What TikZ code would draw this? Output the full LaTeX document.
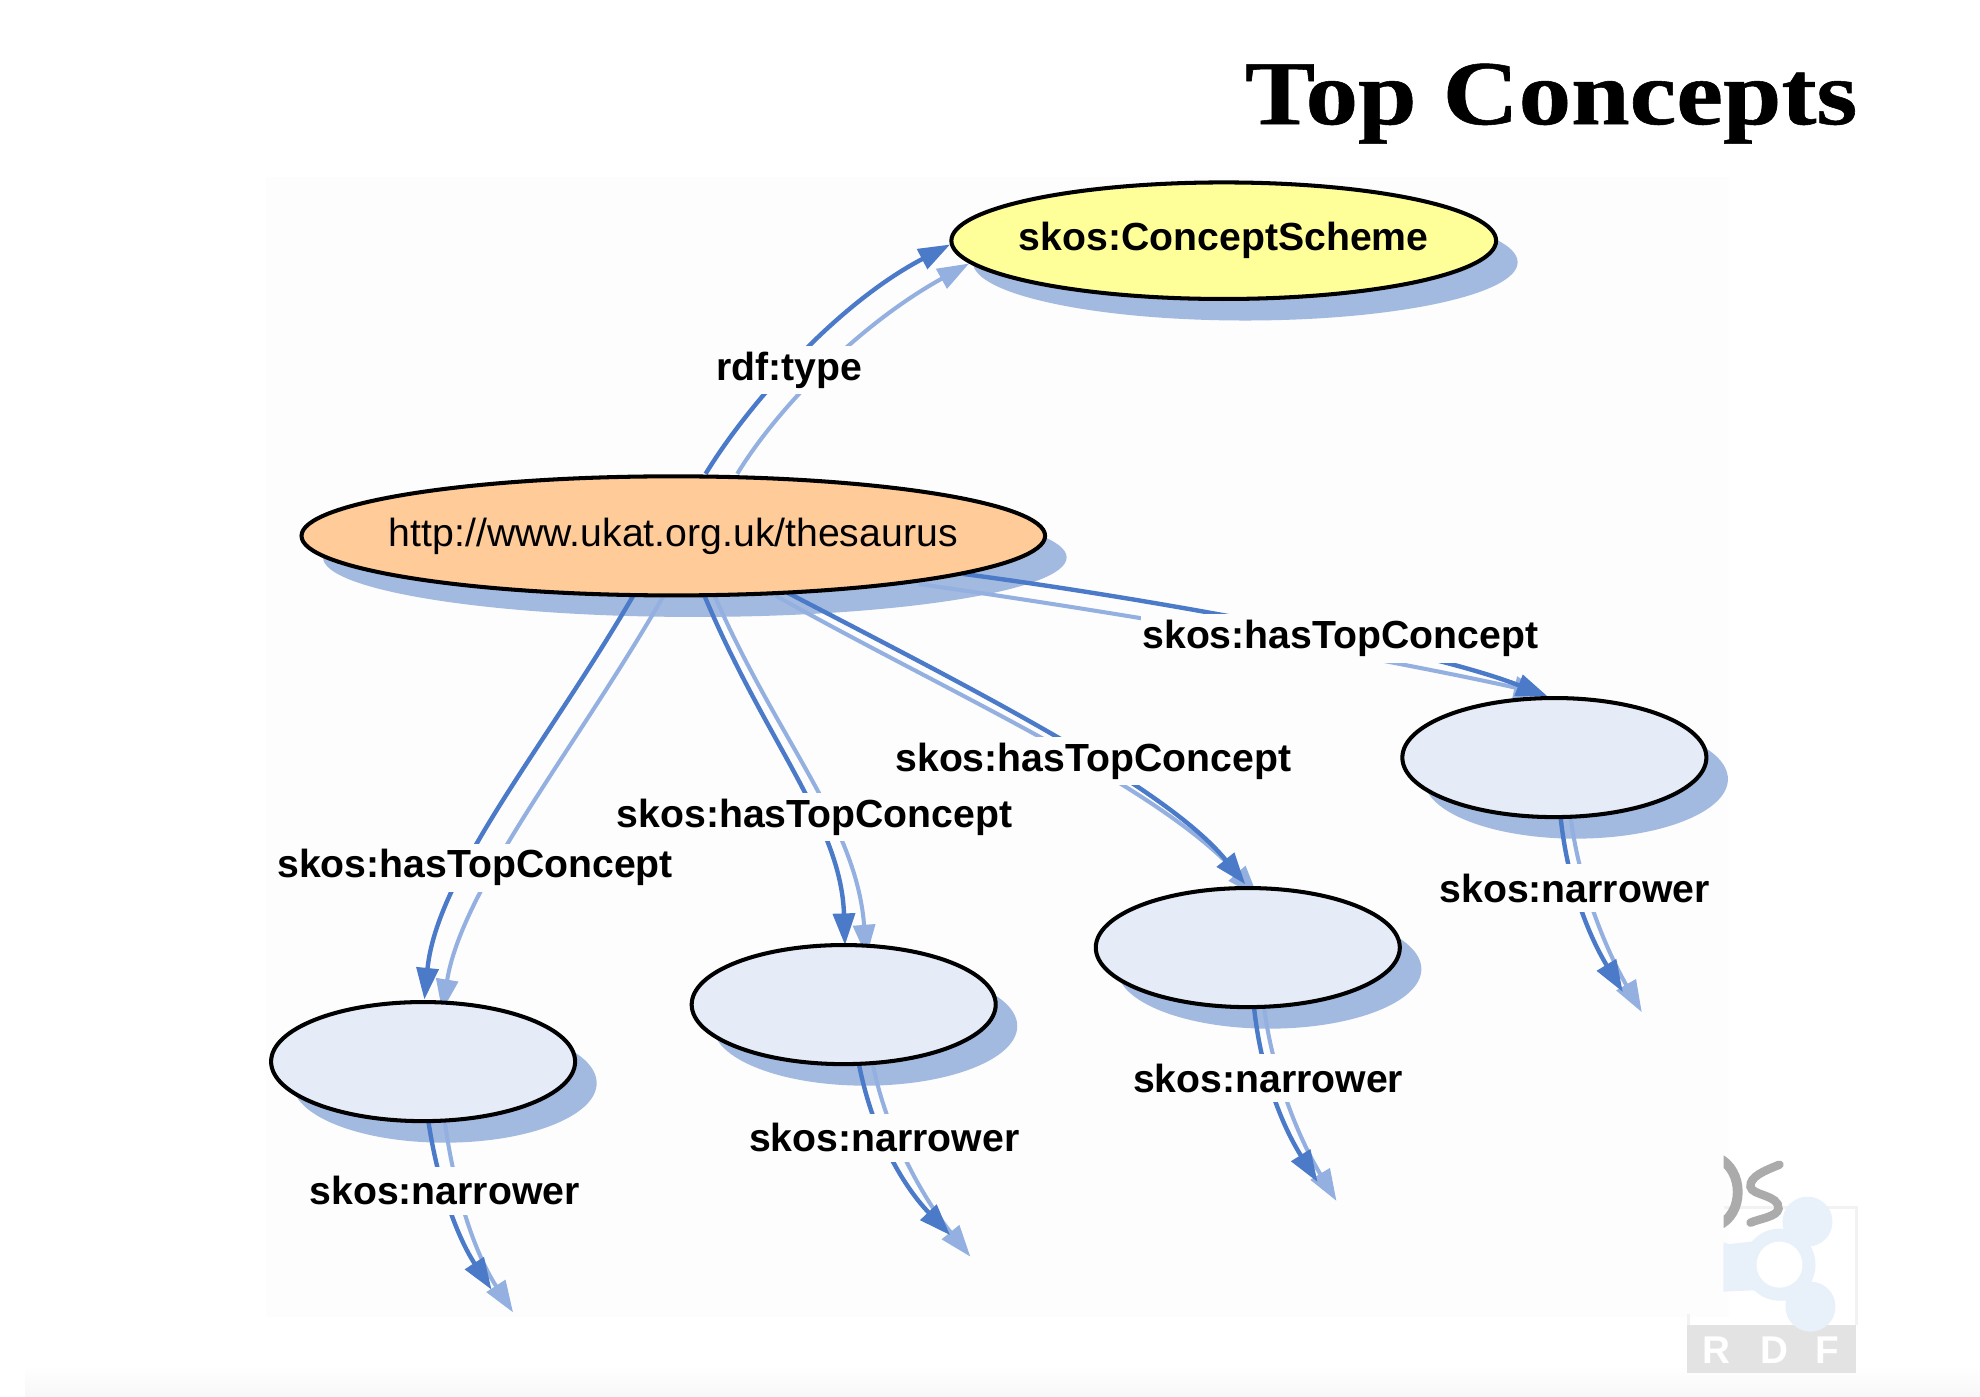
\documentclass[tikz,border=0pt]{standalone}
\usepackage{fontspec}
\setmainfont{Liberation Sans}
\newfontfamily\titlefont[BoldFeatures={FakeBold=0.6}]{Liberation Serif}
\usetikzlibrary{arrows.meta,shapes.geometric}
\pgfdeclarelayer{bglayer}
\pgfdeclarelayer{shadowlayer}
\pgfdeclarelayer{edgelayer}
\pgfsetlayers{bglayer,shadowlayer,edgelayer,main}
\definecolor{darkline}{HTML}{4A7AC8}
\definecolor{lightline}{HTML}{93B0E0}
\definecolor{shadowblue}{HTML}{A3BAE0}
\definecolor{paleblue}{HTML}{E5ECF7}
\definecolor{scheme}{HTML}{FFFF99}
\definecolor{rootfill}{HTML}{FFCC99}
\definecolor{bgtint}{HTML}{FDFDFE}
\definecolor{logoblue}{HTML}{E8F0FA}
\def\U{0.012668cm}
\tikzset{
  x=0.012668cm,y=-0.012668cm,
  oval/.style={ellipse,draw=black,line width=1.15pt,inner sep=0pt},
  smalloval/.style={oval,fill=paleblue,minimum width=240*\U,minimum height=94*\U},
  rootoval/.style={oval,fill=rootfill,minimum width=587*\U,minimum height=94*\U},
  schemeoval/.style={oval,fill=scheme,minimum width=430*\U,minimum height=92*\U},
  shadowoval/.style={ellipse,fill=shadowblue,inner sep=0pt},
  darkedge/.style={draw=darkline,line width=1.25pt,-{Triangle[length=9pt,width=6.2pt]}},
  lightedge/.style={draw=lightline,line width=1.15pt,-{Triangle[length=9pt,width=6.2pt]}},
  edgelabel/.style={fill=bgtint,inner sep=0.5pt,minimum height=38*\U,font=\fontsize{11.15}{13}\selectfont\bfseries},
}
\begin{document}
\begin{tikzpicture}
\useasboundingbox (0,0) rectangle (1563,1102);
% ---- page background
\begin{pgfonlayer}{bglayer}
  \fill[white] (0,0) rectangle (1563,1102);
  \fill[bgtint] (210,140) rectangle (1365,1040);
  \shade[top color=white,bottom color=black!3] (20,1078) rectangle (1563,1102);
\end{pgfonlayer}
% ---- title
\node[anchor=base,xscale=1.15,inner sep=0pt,font=\titlefont\bfseries\fontsize{26}{30}\selectfont] (title) at (1224.5,98) {Top Concepts};
% ---- ellipses
\node[schemeoval] (scheme) at (966,190) {\makebox[0pt]{\raisebox{-1pt}{\fontsize{11.15}{13}\selectfont\bfseries skos:ConceptScheme}}};
\node[rootoval] (root) at (531.5,423) {\makebox[0pt]{\fontsize{11.15}{13}\selectfont http://www.ukat.org.uk/thesaurus}};
\node[smalloval] (n1) at (1227,598) {};
\node[smalloval] (n2) at (985,748) {};
\node[smalloval] (n3) at (666,793) {};
\node[smalloval] (n4) at (334,838) {};
% ---- shadows
\begin{pgfonlayer}{shadowlayer}
  \node[shadowoval,minimum width=430*\U,minimum height=92*\U] (schemeS) at ([shift={(17,17)}]scheme.center) {};
  \node[shadowoval,minimum width=587*\U,minimum height=94*\U] (rootS) at ([shift={(17,17)}]root.center) {};
  \foreach \n in {n1,n2,n3,n4}
    \node[shadowoval,minimum width=240*\U,minimum height=94*\U] (\n S) at ([shift={(17,17)}]\n.center) {};
\end{pgfonlayer}
% ---- free ends of skos:narrower
\coordinate (f1d) at ([shift={(54,185)}]n1.center);
\coordinate (f1l) at ([shift={(69,201)}]n1.center);
\coordinate (f2d) at ([shift={(55,185)}]n2.center);
\coordinate (f2l) at ([shift={(70,200)}]n2.center);
\coordinate (f3d) at ([shift={(84,182)}]n3.center);
\coordinate (f3l) at ([shift={(100,199)}]n3.center);
\coordinate (f4d) at ([shift={(54,180)}]n4.center);
\coordinate (f4l) at ([shift={(71,198)}]n4.center);
% ---- connectors
\begin{pgfonlayer}{edgelayer}
  % rdf:type
  \draw[lightedge] ([shift={(50.5,-49)}]root.center) .. controls (615,320) and (680,255) .. ([shift={(-201,18)}]scheme.center);
  \draw[darkedge] ([shift={(25.5,-49)}]root.center) .. controls (590,320) and (660,240) .. ([shift={(-216,3)}]scheme.center);
  % to n1
  \draw[lightedge] ([shift={(193.5,38)}]root.center) .. controls (860,480) and (1070,515) .. ([shift={(-7,-50)}]n1.center);
  \draw[darkedge] ([shift={(228.5,30)}]root.center) .. controls (890,470) and (1120,510) .. ([shift={(-5,-48)}]n1.center);
  % to n2
  \draw[lightedge] ([shift={(80.5,47)}]root.center) .. controls (745,545) and (915,620) .. ([shift={(8,-40)}]n2.center);
  \draw[darkedge] ([shift={(90.5,45)}]root.center) .. controls (760,540) and (920,620) .. ([shift={(-2,-50)}]n2.center);
  % to n3
  \draw[lightedge] ([shift={(32.5,47)}]root.center) .. controls (614,585) and (676,650) .. ([shift={(18,-38)}]n3.center);
  \draw[darkedge] ([shift={(24.5,47)}]root.center) .. controls (604,585) and (664,650) .. ([shift={(1,-47)}]n3.center);
  % to n4
  \draw[lightedge] ([shift={(-7.5,47)}]root.center) .. controls (455,590) and (365,700) .. ([shift={(15,-40)}]n4.center);
  \draw[darkedge] ([shift={(-31.5,47)}]root.center) .. controls (430,590) and (345,690) .. ([shift={(1,-49)}]n4.center);
  % skos:narrower
  \draw[lightedge] ([shift={(13,48)}]n1.center) .. controls ([shift={(20,102)}]n1.center) and ([shift={(41,152)}]n1.center) .. (f1l);
  \draw[darkedge] ([shift={(5,48)}]n1.center) .. controls ([shift={(11,102)}]n1.center) and ([shift={(28,142)}]n1.center) .. (f1d);
  \draw[lightedge] ([shift={(13,48)}]n2.center) .. controls ([shift={(20,102)}]n2.center) and ([shift={(41,152)}]n2.center) .. (f2l);
  \draw[darkedge] ([shift={(5,48)}]n2.center) .. controls ([shift={(11,102)}]n2.center) and ([shift={(28,142)}]n2.center) .. (f2d);
  \draw[lightedge] ([shift={(23,47)}]n3.center) .. controls ([shift={(34,102)}]n3.center) and ([shift={(62,152)}]n3.center) .. (f3l);
  \draw[darkedge] ([shift={(12,47)}]n3.center) .. controls ([shift={(23,102)}]n3.center) and ([shift={(46,142)}]n3.center) .. (f3d);
  \draw[lightedge] ([shift={(17,46)}]n4.center) .. controls ([shift={(24,100)}]n4.center) and ([shift={(40,150)}]n4.center) .. (f4l);
  \draw[darkedge] ([shift={(4,46)}]n4.center) .. controls ([shift={(12,100)}]n4.center) and ([shift={(28,140)}]n4.center) .. (f4d);
\end{pgfonlayer}
% ---- labels
\node[edgelabel] (l0) at (623,292) {rdf:type};
\node[edgelabel] (l1) at (1058,504) {skos:hasTopConcept};
\node[edgelabel] (l2) at (863,601) {skos:hasTopConcept};
\node[edgelabel] (l3) at (643,645) {skos:hasTopConcept};
\node[edgelabel] (l4) at (375,685) {skos:hasTopConcept};
\node[edgelabel] (m1) at (1243,701) {skos:narrower};
\node[edgelabel] (m2) at (1001,851) {skos:narrower};
\node[edgelabel] (m3) at (698,898) {skos:narrower};
\node[edgelabel] (m4) at (351,940) {skos:narrower};
% ---- partial logo, bottom right (real pixel scale)
\begin{scope}[x=0.01cm,y=-0.01cm]
  \fill[black!11] (1687,1325) rectangle (1857,1373);
  \draw[black!5,line width=1pt] (1724,1208) -- (1857,1208) -- (1857,1325);
  \draw[black!5,line width=0.6pt] (1689,1314) -- (1689,1325);
  \begin{scope}
    \clip (1724,1150) rectangle (1880,1340);
    \fill[logoblue] (1780,1265) circle (0.36cm);
    \fill[logoblue] (1808,1222) circle (0.25cm);
    \fill[logoblue] (1811,1307) circle (0.25cm);
    \fill[logoblue] (1718,1267) circle (0.25cm);
    \fill[logoblue] (1724,1245) -- (1770,1240) -- (1770,1290) -- (1724,1292) -- cycle;
    \fill[logoblue] (1770,1236) -- (1800,1222) -- (1812,1250) -- (1795,1262) -- cycle;
    \fill[logoblue] (1770,1294) -- (1800,1307) -- (1815,1285) -- (1795,1268) -- cycle;
    \fill[white] (1780,1265) circle (0.23cm);
    \draw[line width=2.8pt,black!33] (1718,1158) .. controls (1745,1170) and (1745,1215) .. (1718,1226);
    \draw[line width=2.4pt,black!33,line cap=round] (1780,1165) .. controls (1765,1171) and (1750,1177) .. (1751,1187) .. controls (1752,1196) and (1780,1195) .. (1779,1209) .. controls (1778,1217) and (1760,1219) .. (1751,1223);
  \end{scope}
  \node[text=white,font=\fontsize{11}{13}\selectfont\bfseries,inner sep=0pt] (lr) at (1717,1351) {R};
  \node[text=white,font=\fontsize{11}{13}\selectfont\bfseries,inner sep=0pt] (ld) at (1775,1351) {D};
  \node[text=white,font=\fontsize{11}{13}\selectfont\bfseries,inner sep=0pt] (lf) at (1828,1351) {F};
\end{scope}
\end{tikzpicture}
\end{document}
